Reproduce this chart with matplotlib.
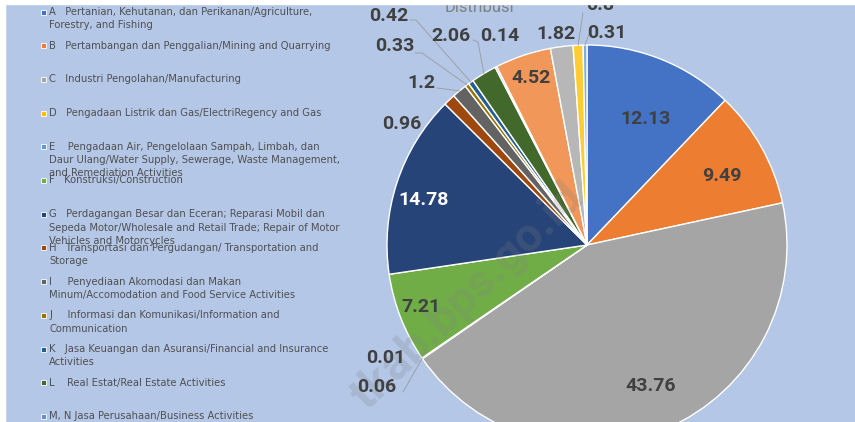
# Distribusi PDRB menurut lapangan usaha - pie chart

import numpy as np
import matplotlib.pyplot as plt
from matplotlib.patches import Rectangle

W, H = 855, 422

# data
kategori = ["A", "B", "C", "D", "E", "F", "G", "H", "I", "J", "K", "L",
            "M,N", "O", "P", "Q", "R,S,T,U"]
nilai = [12.13, 9.49, 43.76, 0.06, 0.01, 7.21, 14.78, 0.96, 1.2, 0.33,
         0.42, 2.06, 0.14, 4.52, 1.82, 0.8, 0.31]
warna = ["#4472C4", "#ED7D31", "#A5A5A5", "#FFC000", "#5B9BD5", "#70AD47",
         "#264478", "#9E480E", "#636363", "#997300", "#255E91", "#43682B",
         "#698ED0", "#F1975A", "#B7B7B7", "#FFCD33", "#7CAFDD"]
keterangan = [
    ["A   Pertanian, Kehutanan, dan Perikanan/Agriculture,", "Forestry, and Fishing"],
    ["B   Pertambangan dan Penggalian/Mining and Quarrying"],
    ["C   Industri Pengolahan/Manufacturing"],
    ["D   Pengadaan Listrik dan Gas/ElectriRegency and Gas"],
    ["E    Pengadaan Air, Pengelolaan Sampah, Limbah, dan",
     "Daur Ulang/Water Supply, Sewerage, Waste Management,",
     "and Remediation Activities"],
    ["F   Konstruksi/Construction"],
    ["G   Perdagangan Besar dan Eceran; Reparasi Mobil dan",
     "Sepeda Motor/Wholesale and Retail Trade; Repair of Motor",
     "Vehicles and Motorcycles"],
    ["H   Transportasi dan Pergudangan/ Transportation and", "Storage"],
    ["I     Penyediaan Akomodasi dan Makan",
     "Minum/Accomodation and Food Service Activities"],
    ["J     Informasi dan Komunikasi/Information and", "Communication"],
    ["K   Jasa Keuangan dan Asuransi/Financial and Insurance", "Activities"],
    ["L    Real Estat/Real Estate Activities"],
    ["M, N Jasa Perusahaan/Business Activities"],
]

# posisi label (piksel dari kiri atas) - hanya tata letak
pos_label = [(646, 119), (722, 176), (651, 386), (377, 387), (386, 358),
             (421, 307), (424, 200), (402, 124), (421, 83), (395, 46),
             (389, 16), (451, 36), (500, 36), (531, 78), (556, 34),
             (600, 5), (607, 33)]
# titik awal garis penunjuk
garis_awal = {3: [(403, 392)], 8: [(437, 88)], 9: [(415, 53), (422, 53)],
              10: [(410, 20), (416, 20)], 11: [(473, 40), (478, 42)],
              15: [(583, 13)], 16: [(589, 34)]}

cx, cy, r = 587, 245, 200
bg = "#B4C7E7"
teks_gelap = "#404040"

def py(y):
    # konversi y piksel (dari atas) ke koordinat axes
    return H - y

fig = plt.figure(figsize=(W / 100, H / 100), dpi=100)
fig.patch.set_facecolor(bg)
ax = fig.add_axes([0, 0, 1, 1])
ax.set_facecolor(bg)

ax.pie(nilai, colors=warna, startangle=90, counterclock=False, radius=r,
       center=(cx, py(cy)), wedgeprops=dict(edgecolor="white", linewidth=1))
ax.set_xlim(0, W)
ax.set_ylim(0, H)
ax.set_aspect("auto")
ax.axis("off")

# label nilai
kum = np.cumsum(nilai)
for i, v in enumerate(nilai):
    x, y = pos_label[i]
    c = "white" if kategori[i] == "G" else teks_gelap
    ax.text(x, py(y), "{:g}".format(v), ha="center", va="center",
            fontsize=14, fontweight="bold", color=c, family="Roboto", zorder=6)
    if i in garis_awal:
        sudut = np.deg2rad(360 * (kum[i] - v / 2) / 100)
        ex = cx + r * np.sin(sudut)
        ey = cy - r * np.cos(sudut)
        pts = garis_awal[i] + [(ex, ey)]
        ax.plot([p[0] for p in pts], [py(p[1]) for p in pts],
                color="#9a9a9a", lw=0.6, zorder=4)

# judul (terpotong)
ax.text(479, py(12), "Distribusi", ha="center", va="baseline", fontsize=12,
        color="#808080", family="Roboto")

# watermark
ax.text(468, py(297), "tkab.bps.go.id", ha="center", va="center",
        rotation=44, fontsize=34, fontweight="bold", color="#7f7f7f",
        alpha=0.22, family="Roboto", zorder=5)

# legenda (hanya yang terlihat)
for i, baris in enumerate(keterangan):
    y0 = 12 + i * 33.7
    ax.add_patch(Rectangle((41, py(y0) - 2.5), 5, 5, facecolor=warna[i],
                           edgecolor="white", lw=0.6, zorder=6))
    for j, t in enumerate(baris):
        ax.text(49, py(y0 + j * 13.3), t, fontsize=7.2, va="center",
                color="#505050", family="DejaVu Sans", zorder=6)

# tepi putih atas & kiri
ax.add_patch(Rectangle((0, H - 4), W, 4, color="white", zorder=10))
ax.add_patch(Rectangle((0, 0), 5, H, color="white", zorder=10))

fig.savefig("out.png", dpi=100, facecolor=bg)
